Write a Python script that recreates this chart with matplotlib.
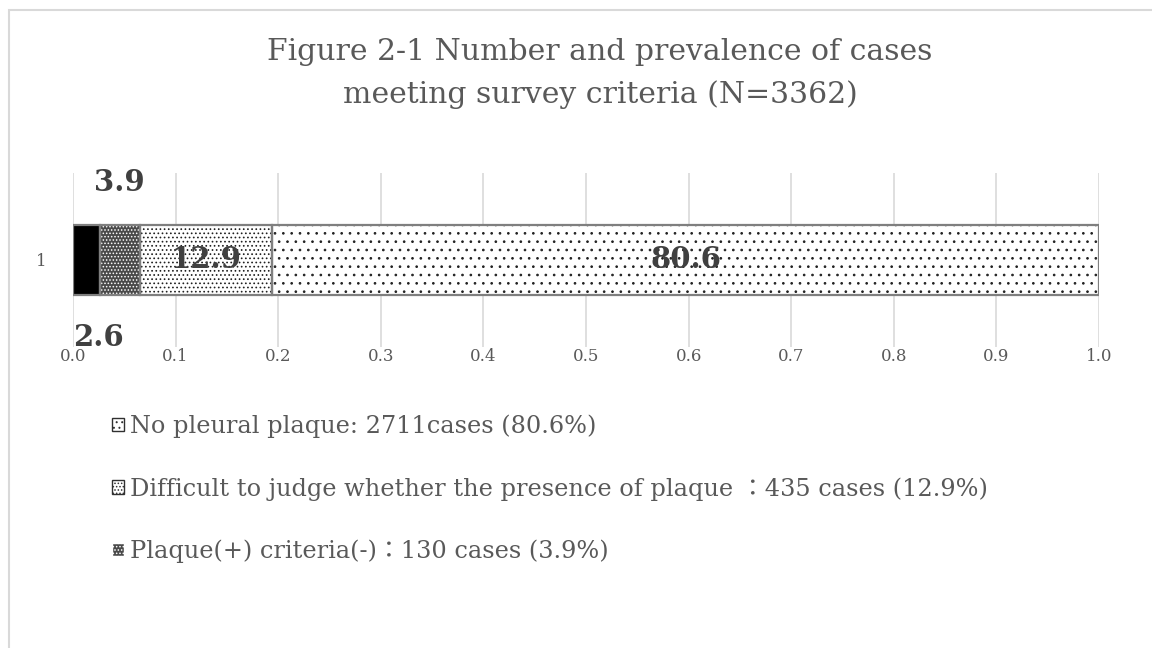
import numpy as np
import matplotlib
matplotlib.use('Agg')
import matplotlib.pyplot as plt
from matplotlib.patches import Rectangle, Patch

plt.rcParams['font.family'] = ['DejaVu Serif', 'Noto Sans CJK JP']
plt.rcParams['hatch.linewidth'] = 0.7

# data
category = ['1']
shares = [0.026, 0.039, 0.129, 0.806]
labels = ['2.6', '3.9', '12.9', '80.6']
legend_text = ['No pleural plaque: 2711cases (80.6%)',
               'Difficult to judge whether the presence of plaque \uff1a435 cases (12.9%)',
               'Plaque(+) criteria(-)\uff1a130 cases (3.9%)']

faces = ['black', '#4a4a4a', 'white', 'white']
hatches = [None, '.....', '....', '..']
hcols = ['black', 'white', '#202020', '#202020']

fig = plt.figure(figsize=(11.52, 6.48), dpi=100)
fig.patch.set_facecolor('white')
fig.patches.append(Rectangle((9/1152, -0.1), 1.2, 1 - 10/648 + 0.1, transform=fig.transFigure,
                             fill=False, edgecolor='#d9d9d9', lw=1.5, clip_on=False))

ax = fig.add_axes([73/1152, 1 - 347/648, 1026/1152, 174/648])
bh = 0.40
left = 0
for i, s in enumerate(shares):
    ax.barh(0, s, left=left, height=bh, color=faces[i], hatch=hatches[i],
            edgecolor=hcols[i], linewidth=0, zorder=2)
    ax.barh(0, s, left=left, height=bh, fill=False, edgecolor='#7f7f7f',
            linewidth=1.6, zorder=3)
    left += s

cum = np.cumsum([0] + shares)
lab_col = '#404040'
fs = 21
ax.text(cum[0], -0.443, labels[0], ha='left', va='center', fontsize=fs, fontweight='bold',
        color=lab_col)
ax.text((cum[1] + cum[2]) / 2, 0.443, labels[1], ha='center', va='center', fontsize=fs,
        fontweight='bold', color=lab_col)
ax.text((cum[2] + cum[3]) / 2, 0, labels[2], ha='center', va='center', fontsize=fs,
        fontweight='bold', color=lab_col, zorder=5)
ax.text((cum[3] + cum[4]) / 2, 0, labels[3], ha='center', va='center', fontsize=fs,
        fontweight='bold', color=lab_col, zorder=5)

ax.set_xlim(0, 1)
ax.set_ylim(-0.5, 0.5)
ax.set_xticks(np.arange(0, 1.01, 0.1))
ax.set_xticklabels(['%.1f' % v for v in np.arange(0, 1.01, 0.1)])
ax.set_yticks([0])
ax.set_yticklabels(category)
ax.tick_params(axis='x', length=0, pad=1, labelsize=12, labelcolor='#595959')
ax.tick_params(axis='y', length=0, pad=19, labelsize=12, labelcolor='#595959')
ax.grid(axis='x', color='#d9d9d9', lw=1.2, zorder=0)
ax.set_axisbelow(True)
for sp in ax.spines.values():
    sp.set_visible(False)

fig.text(600/1152, 1 - 52/648, 'Figure 2-1 Number and prevalence of cases', ha='center',
         va='center', fontsize=21.5, color='#595959')
fig.text(600/1152, 1 - 95/648, 'meeting survey criteria (N=3362)', ha='center',
         va='center', fontsize=21.5, color='#595959')

handles = [Patch(facecolor=faces[3], hatch='...', edgecolor='#303030'),
           Patch(facecolor=faces[2], hatch='.....', edgecolor='#303030'),
           Patch(facecolor=faces[1], hatch=hatches[1], edgecolor='white')]
leg = fig.legend(handles, legend_text, loc='upper left',
                 bbox_to_anchor=(90/1152, 1 - 393/648), frameon=False,
                 fontsize=17.3, labelcolor='#595959', handlelength=0.5, handleheight=0.5,
                 handletextpad=0.25, labelspacing=1.62)

fig.savefig('out.png', dpi=100)
